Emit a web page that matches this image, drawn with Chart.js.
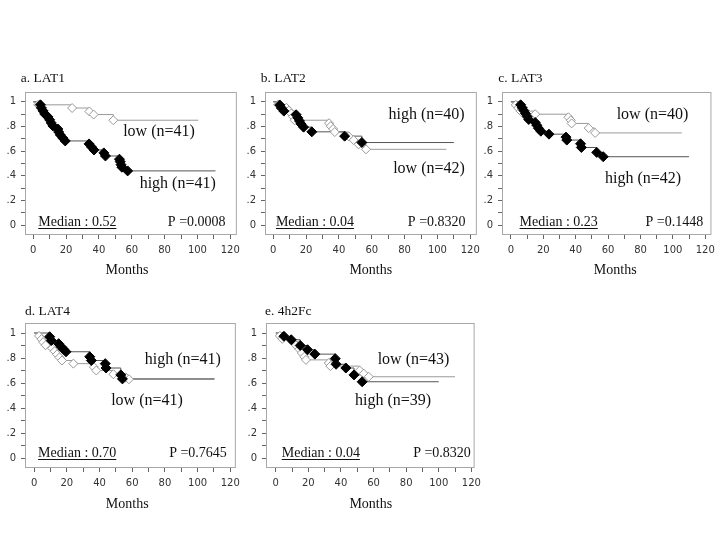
<!DOCTYPE html>
<html>
<head>
<meta charset="utf-8">
<title>LAT survival curves</title>
<script src="https://cdn.jsdelivr.net/npm/chart.js@4.4.1/dist/chart.umd.min.js"></script>
<style>
  html, body { margin: 0; padding: 0; background: #fff; }
  body { position: relative; width: 720px; height: 540px; overflow: hidden; }
  canvas { position: absolute; }
</style>
</head>
<body>
<script>
// a. LAT1
const lat1HighMonths = [4.4, 5, 6, 7, 9, 10, 11, 12, 15, 15.5, 16.5, 18, 19.5, 34, 35.5, 37, 43, 44, 52.5, 53, 53.5, 54, 57.5];
const lat1HighSurv = [0.976, 0.951, 0.927, 0.902, 0.878, 0.854, 0.829, 0.805, 0.78, 0.756, 0.732, 0.707, 0.683, 0.659, 0.634, 0.61, 0.586, 0.561, 0.535, 0.515, 0.49, 0.47, 0.44];
const lat1HighLast = 111;
const lat1LowMonths = [3, 23.7, 34.2, 36.8, 48.8];
const lat1LowSurv = [0.976, 0.95, 0.922, 0.897, 0.851];
const lat1LowLast = 100.5;

// b. LAT2
const lat2HighMonths = [4, 5, 6.5, 14, 15, 16, 17, 18.5, 23.5, 43.5, 54];
const lat2HighSurv = [0.975, 0.95, 0.925, 0.895, 0.87, 0.845, 0.82, 0.795, 0.757, 0.722, 0.67];
const lat2HighLast = 110;
const lat2LowMonths = [3, 8, 9.5, 11, 12, 13, 34, 35, 36.5, 37.5, 46, 49, 52, 56.5];
const lat2LowSurv = [0.976, 0.952, 0.929, 0.905, 0.881, 0.851, 0.827, 0.803, 0.78, 0.755, 0.72, 0.69, 0.655, 0.615];
const lat2LowLast = 105.5;

// c. LAT3
const lat3HighMonths = [6, 7, 8, 9, 10, 11, 15, 16, 17, 18.5, 23.5, 34, 34.5, 43, 43.5, 53, 57];
const lat3HighSurv = [0.976, 0.952, 0.929, 0.905, 0.881, 0.857, 0.833, 0.81, 0.786, 0.762, 0.738, 0.714, 0.69, 0.66, 0.63, 0.59, 0.555];
const lat3HighLast = 110;
const lat3LowMonths = [3, 4.5, 6, 15, 35.5, 37, 37.5, 48, 52];
const lat3LowSurv = [0.975, 0.95, 0.925, 0.9, 0.875, 0.85, 0.825, 0.787, 0.748];
const lat3LowLast = 105.5;

// d. LAT4
const lat4HighMonths = [9.5, 10.5, 15, 16.5, 18, 19.5, 34, 35, 43.5, 44, 53, 54];
const lat4HighSurv = [0.97, 0.94, 0.915, 0.89, 0.87, 0.85, 0.81, 0.78, 0.755, 0.72, 0.665, 0.633];
const lat4HighLast = 110.5;
const lat4LowMonths = [3, 4.5, 5.5, 7, 11, 12.5, 14, 15.5, 17, 24, 36.5, 38, 48.5, 56, 58];
const lat4LowSurv = [0.976, 0.951, 0.927, 0.902, 0.878, 0.854, 0.829, 0.805, 0.78, 0.755, 0.728, 0.7, 0.67, 0.645, 0.63];
const lat4LowLast = 110;

// e. 4h2Fc
const fcHighMonths = [5, 9.5, 15, 19.5, 24, 36.5, 37, 43, 48, 53];
const fcHighSurv = [0.974, 0.946, 0.9, 0.866, 0.831, 0.795, 0.75, 0.72, 0.665, 0.61];
const fcHighLast = 100;
const fcLowMonths = [2.5, 4, 10.5, 12.5, 14.5, 16, 17.5, 18.5, 32.5, 33.5, 51.5, 54, 57];
const fcLowSurv = [0.977, 0.953, 0.93, 0.9, 0.87, 0.84, 0.81, 0.785, 0.76, 0.735, 0.7, 0.675, 0.65];
const fcLowLast = 110;

const serif = '"Liberation Serif", "Times New Roman", serif';
const sans = '"DejaVu Sans", sans-serif';

const panels = [
    {
        canvas: [0, 62, 245, 222], box: [25, 92, 240, 235], xRange: [-5, 124],
        title: ['a. LAT1', 20.7, 78],
        groups: [['low (n=41)', 159, 131.7], ['high (n=41)', 177.7, 183.3]],
        median: ['Median : 0.52', 77.3, 222.3], pval: ['P =0.0008', 196.7, 222.3], months: [127, 270.7],
        high: [lat1HighMonths, lat1HighSurv, lat1HighLast], low: [lat1LowMonths, lat1LowSurv, lat1LowLast],
    },
    {
        canvas: [240, 62, 245, 222], box: [265, 92, 480, 235], xRange: [-5, 124],
        title: ['b. LAT2', 260.7, 78],
        groups: [['high (n=40)', 426.5, 115], ['low (n=42)', 429, 168.3]],
        median: ['Median : 0.04', 315, 222.3], pval: ['P =0.8320', 436.7, 222.3], months: [370.8, 270.7],
        high: [lat2HighMonths, lat2HighSurv, lat2HighLast], low: [lat2LowMonths, lat2LowSurv, lat2LowLast],
    },
    {
        canvas: [477, 62, 243, 222], box: [502, 92, 718, 235], xRange: [-5.5, 123.8],
        title: ['c. LAT3', 498.3, 78],
        groups: [['low (n=40)', 652.5, 115], ['high (n=42)', 643, 179]],
        median: ['Median : 0.23', 558.7, 222.3], pval: ['P =0.1448', 674.3, 222.3], months: [615.2, 270.5],
        high: [lat3HighMonths, lat3HighSurv, lat3HighLast], low: [lat3LowMonths, lat3LowSurv, lat3LowLast],
    },
    {
        canvas: [0, 292, 245, 222], box: [25, 323, 241, 468], xRange: [-5.6, 123.4],
        title: ['d. LAT4', 25, 311.7],
        groups: [['high (n=41)', 182.8, 359.3], ['low (n=41)', 147, 401]],
        median: ['Median : 0.70', 77.2, 453.3], pval: ['P =0.7645', 198, 453.3], months: [127.2, 504.3],
        high: [lat4HighMonths, lat4HighSurv, lat4HighLast], low: [lat4LowMonths, lat4LowSurv, lat4LowLast],
    },
    {
        canvas: [241, 292, 245, 222], box: [266, 323, 479, 468], xRange: [-6, 122],
        title: ['e. 4h2Fc', 265, 311.7],
        groups: [['low (n=43)', 413.5, 360], ['high (n=39)', 393, 401]],
        median: ['Median : 0.04', 320.8, 453.3], pval: ['P =0.8320', 442, 453.3], months: [370.8, 504.3],
        high: [fcHighMonths, fcHighSurv, fcHighLast], low: [fcLowMonths, fcLowSurv, fcLowLast],
    },
];

const curve = ([months, surv, last]) => [
    {x: 0, y: 1},
    ...months.map((m, i) => ({x: m, y: surv[i]})),
    {x: last, y: surv[surv.length - 1]},
];
const marks = ([months, surv]) => months.map((m, i) => ({x: m, y: surv[i]}));

// frame round the plot area plus all the serif texts
const panelText = (p) => ({
    id: 'panelText',
    beforeDatasetsDraw(chart) {
        const {ctx, chartArea: a} = chart;
        ctx.save();
        ctx.strokeStyle = '#a8a8a8';
        ctx.lineWidth = 1;
        ctx.strokeRect(a.left + 0.5, a.top + 0.5, a.width - 1, a.height - 1);
        ctx.restore();
    },
    afterDraw(chart) {
        const ctx = chart.ctx;
        const [cl, ct] = p.canvas;
        const put = (txt, x, y, size, align) => {
            ctx.font = `${size}px ${serif}`;
            ctx.textAlign = align;
            ctx.textBaseline = 'middle';
            ctx.fillText(txt, x - cl, y - ct);
            return ctx.measureText(txt).width;
        };
        ctx.save();
        ctx.fillStyle = '#111';
        put(p.title[0], p.title[1], p.title[2], 13.5, 'left');
        p.groups.forEach(([txt, x, y]) => put(txt, x, y, 16, 'center'));
        const w = put(p.median[0], p.median[1], p.median[2], 14, 'center');
        ctx.strokeStyle = '#111';
        ctx.lineWidth = 1;
        ctx.beginPath();
        const uy = Math.round(p.median[2] - ct + 6) + 0.5;
        ctx.moveTo(p.median[1] - cl - w / 2, uy);
        ctx.lineTo(p.median[1] - cl + w / 2, uy);
        ctx.stroke();
        put(p.pval[0], p.pval[1], p.pval[2], 14, 'center');
        put('Months', p.months[0], p.months[1], 14, 'center');
        ctx.restore();
    },
});

function makePanel(p) {
    const [cl, ct, cw, ch] = p.canvas;
    const [bl, bt, br, bb] = p.box;
    const canvas = document.createElement('canvas');
    canvas.width = cw;
    canvas.height = ch;
    canvas.style.left = cl + 'px';
    canvas.style.top = ct + 'px';
    document.body.appendChild(canvas);

    const tickGrid = {display: true, drawOnChartArea: false, drawTicks: true, tickLength: 4, tickColor: '#666'};

    return new Chart(canvas.getContext('2d'), {
        type: 'scatter',
        data: {
            datasets: [
                {
                    data: marks(p.high), pointStyle: 'rectRot', pointRadius: 5,
                    backgroundColor: '#000', borderColor: '#000', borderWidth: 1, order: 1,
                },
                {
                    data: marks(p.low), pointStyle: 'rectRot', pointRadius: 4.5,
                    backgroundColor: '#fff', borderColor: '#999', borderWidth: 1, order: 2,
                },
                {
                    data: curve(p.high), showLine: true, stepped: true, pointRadius: 0,
                    borderColor: '#555', borderWidth: 1, order: 3,
                },
                {
                    data: curve(p.low), showLine: true, stepped: true, pointRadius: 0,
                    borderColor: '#9a9a9a', borderWidth: 1, order: 4,
                },
            ]
        },
        options: {
            responsive: false,
            animation: false,
            layout: {padding: {left: 0, top: bt - ct, right: cl + cw - br, bottom: 0}},
            plugins: {legend: {display: false}, tooltip: {enabled: false}},
            scales: {
                x: {
                    type: 'linear', min: p.xRange[0], max: p.xRange[1],
                    grid: tickGrid, border: {display: false},
                    ticks: {
                        stepSize: 10, includeBounds: false, autoSkip: false, maxRotation: 0, padding: 5,
                        color: '#333', font: {family: sans, size: 10},
                        callback: (v) => (Math.round(v) % 20 === 0 ? String(Math.round(v)) : ''),
                    },
                    afterFit: (s) => { s.height = ct + ch - bb; },
                },
                y: {
                    min: -0.08, max: 1.08,
                    grid: tickGrid, border: {display: false},
                    ticks: {
                        stepSize: 0.1, includeBounds: false, autoSkip: false, padding: 5,
                        color: '#333', font: {family: sans, size: 10},
                        callback: (v) => {
                            const r = Math.round(v * 10);
                            if (r % 2) return '';
                            return r === 0 ? '0' : r === 10 ? '1' : '.' + r;
                        },
                    },
                    afterFit: (s) => { s.width = bl - cl; },
                },
            }
        },
        plugins: [panelText(p)],
    });
}

panels.forEach(makePanel);
</script>
</body>
</html>
